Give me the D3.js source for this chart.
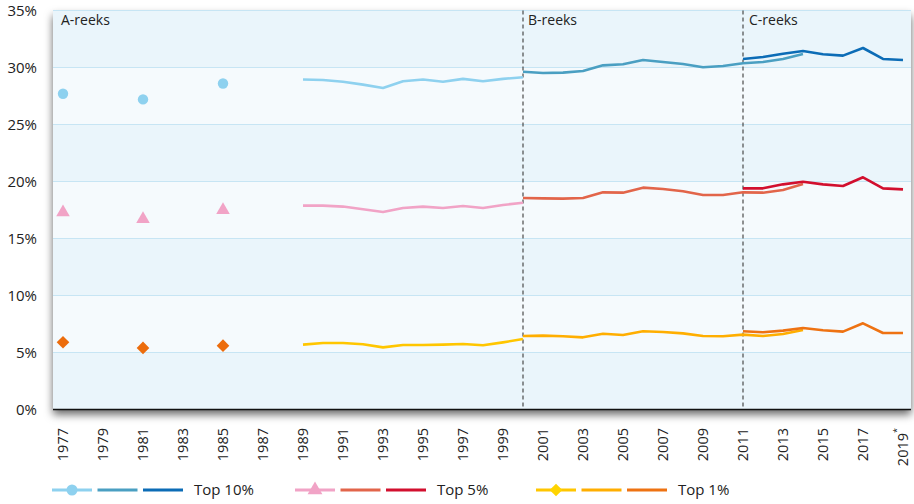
<!DOCTYPE html>
<html><head><meta charset="utf-8">
<script src="https://cdn.jsdelivr.net/npm/d3@7"></script>
<style>
html,body{margin:0;padding:0;background:#fff;}
text{font-family:"Open Sans","Noto Sans",sans-serif;fill:#222;}
</style></head>
<body><svg id="c" width="914" height="504"></svg>
<script>
// ---- data ----
const yTicks = [0,5,10,15,20,25,30,35];
const xTickYears = [1977,1979,1981,1983,1985,1987,1989,1991,1993,1995,1997,1999,2001,2003,2005,2007,2009,2011,2013,2015,2017,2019];
const seriesBreaks = [2000, 2011];
const breakLabels = ["A-reeks","B-reeks","C-reeks"];

const dotYears = [1977, 1981, 1985];
const top10Dots = [27.7, 27.2, 28.6];
const top5Dots  = [17.3, 16.7, 17.5];
const top1Dots  = [5.9, 5.4, 5.6];

const aYears = [1989,1990,1991,1992,1993,1994,1995,1996,1997,1998,1999,2000];
const top10A = [28.95,28.9,28.75,28.5,28.2,28.8,28.95,28.75,29.0,28.8,29.0,29.15];
const top5A  = [17.88,17.88,17.8,17.56,17.32,17.68,17.8,17.68,17.85,17.68,17.94,18.14];
const top1A  = [5.69,5.83,5.83,5.72,5.45,5.66,5.66,5.69,5.75,5.63,5.89,6.18];

const bYears = [2000,2001,2002,2003,2004,2005,2006,2007,2008,2009,2010,2011,2012,2013,2014];
const top10B = [29.63,29.52,29.55,29.69,30.19,30.28,30.66,30.48,30.3,30.02,30.13,30.37,30.48,30.75,31.18];
const top5B  = [18.55,18.52,18.5,18.55,19.05,19.02,19.46,19.34,19.14,18.82,18.82,19.05,19.02,19.25,19.78];
const top1B  = [6.45,6.48,6.42,6.33,6.65,6.54,6.86,6.8,6.68,6.45,6.42,6.57,6.45,6.62,6.97];

const cYears = [2011,2012,2013,2014,2015,2016,2017,2018,2019];
const top10C = [30.75,30.92,31.21,31.45,31.16,31.04,31.71,30.75,30.66];
const top5C  = [19.4,19.4,19.75,19.98,19.75,19.6,20.37,19.4,19.31];
const top1C  = [6.86,6.77,6.92,7.15,6.95,6.83,7.56,6.71,6.71];

const legendNames = ["Top 10%","Top 5%","Top 1%"];

// ---- styles ----
const col = {
  t10:["#8ed1ef","#4a9fc2","#0c6cb6"],
  t5:["#f1a3c6","#e2654a","#d20f2e"],
  t1:["#ffc600","#ffae00","#ee7212"],
  t1dot:"#ec6c0c", t1legendDot:"#ffd400"
};

const svg = d3.select("#c");
const L=53, R=911, T=10.5, B=409.5;
const x = d3.scaleLinear().domain([1976.5,2019.4]).range([L,R]);
const y = d3.scaleLinear().domain([0,35]).range([B,T]);

const defs = svg.append("defs");
const f = defs.append("filter").attr("id","sh").attr("x","-5%").attr("y","-10%").attr("width","110%").attr("height","125%");
f.append("feDropShadow").attr("dx",0).attr("dy",5).attr("stdDeviation",4.5).attr("flood-color","#000").attr("flood-opacity",0.6);

// plot background with shadow
svg.append("rect").attr("x",L).attr("y",T).attr("width",R-L).attr("height",B-T).attr("fill","#eef7fc").attr("filter","url(#sh)");
// alternating bands
for(let i=0;i<yTicks.length-1;i++){
  svg.append("rect").attr("x",L).attr("y",y(yTicks[i+1])).attr("width",R-L)
    .attr("height",y(yTicks[i])-y(yTicks[i+1]))
    .attr("fill", (i%2===0)?"#eaf5fb":"#f5fafd");
}
// gridlines
svg.append("g").selectAll("line").data(yTicks.slice(1)).join("line")
  .attr("x1",L).attr("x2",R).attr("y1",d=>y(d)).attr("y2",d=>y(d))
  .attr("stroke","#c7e5f4").attr("stroke-width",1);

// y labels
svg.append("g").selectAll("text").data(yTicks).join("text")
  .attr("x",37).attr("y",d=>y(d)).attr("dy","0.36em").attr("text-anchor","end")
  .attr("font-size",15).text(d=>d+"%");

// x labels rotated
const xl = svg.append("g").selectAll("text").data(xTickYears).join("text")
  .attr("transform",d=>`translate(${x(d)},428) rotate(-90)`)
  .attr("text-anchor","end").attr("dy","0.36em").attr("font-size",14.5);
xl.each(function(d){
  const t=d3.select(this);
  if(d===2019){
    t.append("tspan").text("2019");
    t.append("tspan").attr("font-size",9).attr("dy","-0.9em").text("*");
  } else t.text(d);
});

// break lines
svg.append("g").selectAll("line").data(seriesBreaks).join("line")
  .attr("x1",d=>x(d)).attr("x2",d=>x(d)).attr("y1",T).attr("y2",B)
  .attr("stroke","#3a3a3a").attr("stroke-width",1.1).attr("stroke-dasharray","4,3");
const labX=[L+8, x(seriesBreaks[0])+5, x(seriesBreaks[1])+6];
svg.append("g").selectAll("text").data(breakLabels).join("text")
  .attr("x",(d,i)=>labX[i]).attr("y",25).attr("font-size",14).text(d=>d);

// lines
const line = d3.line().x(d=>x(d[0])).y(d=>y(d[1]));
function draw(years, vals, c, w){
  svg.append("path").datum(years.map((yr,i)=>[yr,vals[i]]))
    .attr("d",line).attr("fill","none").attr("stroke",c).attr("stroke-width",w||2.6)
    .attr("stroke-linejoin","round");
}
draw(aYears, top10A, col.t10[0]); draw(bYears, top10B, col.t10[1]); draw(cYears, top10C, col.t10[2]);
draw(aYears, top5A, col.t5[0]);   draw(bYears, top5B, col.t5[1]);   draw(cYears, top5C, col.t5[2]);
draw(aYears, top1A, col.t1[0]);   draw(bYears, top1B, col.t1[1]);   draw(cYears, top1C, col.t1[2]);

// markers
const sym = (type,size)=>d3.symbol().type(type).size(size)();
svg.append("g").selectAll("path").data(dotYears).join("path")
  .attr("transform",(d,i)=>`translate(${x(d)},${y(top10Dots[i])})`)
  .attr("d",sym(d3.symbolCircle,85)).attr("fill",col.t10[0]);
svg.append("g").selectAll("path").data(dotYears).join("path")
  .attr("transform",(d,i)=>`translate(${x(d)},${y(top5Dots[i])})`)
  .attr("d",sym(d3.symbolTriangle,80)).attr("fill",col.t5[0]);
svg.append("g").selectAll("path").data(dotYears).join("path")
  .attr("transform",(d,i)=>`translate(${x(d)},${y(top1Dots[i])}) rotate(45)`)
  .attr("d",sym(d3.symbolSquare,80)).attr("fill",col.t1dot);

// x axis line
svg.append("line").attr("x1",L).attr("x2",R).attr("y1",B).attr("y2",B).attr("stroke","#111").attr("stroke-width",1.4);

// legend
const legY=490;
const groups=[
  {x0:52, cols:col.t10, marker:[d3.symbolCircle,95,0], mcol:col.t10[0], name:legendNames[0]},
  {x0:295, cols:col.t5, marker:[d3.symbolTriangle,95,0], mcol:col.t5[0], name:legendNames[1]},
  {x0:536, cols:col.t1, marker:[d3.symbolSquare,80,45], mcol:col.t1legendDot, name:legendNames[2]}
];
groups.forEach(g=>{
  const lg=svg.append("g");
  g.cols.forEach((c,i)=>{
    const sx=g.x0+i*45.5;
    lg.append("line").attr("x1",sx).attr("x2",sx+40).attr("y1",legY).attr("y2",legY)
      .attr("stroke",c).attr("stroke-width",3);
  });
  lg.append("path").attr("transform",`translate(${g.x0+20},${legY}) rotate(${g.marker[2]})`)
    .attr("d",sym(g.marker[0],g.marker[1])).attr("fill",g.mcol);
  lg.append("text").attr("x",g.x0+142).attr("y",legY).attr("dy","0.36em").attr("font-size",15).text(g.name);
});
</script></body></html>
